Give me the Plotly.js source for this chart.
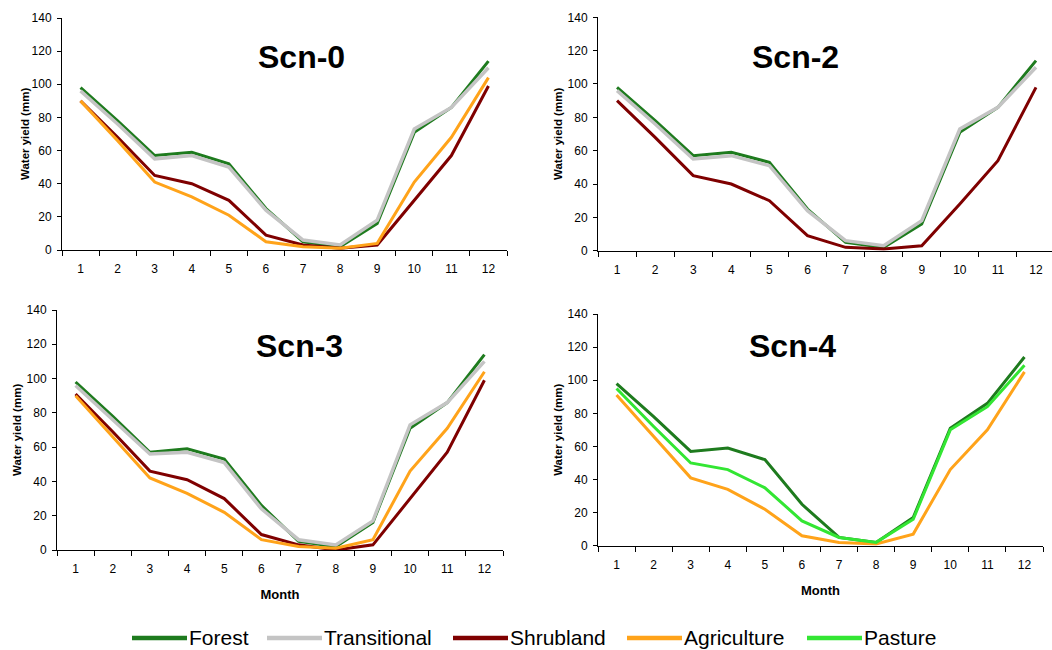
<!DOCTYPE html>
<html>
<head>
<meta charset="utf-8">
<script src="https://cdn.plot.ly/plotly-3.0.1.min.js"></script>
<style>
html,body{margin:0;padding:0;background:#fff;}
#chart{width:1052px;height:650px;}
</style>
</head>
<body>
<div id="chart"></div>
<script>
// ---------------- DATA ----------------
const months = ['1','2','3','4','5','6','7','8','9','10','11','12'];
const scenarioTitles = ['Scn-0','Scn-2','Scn-3','Scn-4'];
const seriesNames = ['Forest','Transitional','Shrubland','Agriculture','Pasture'];

// Scn-0
const s0Forest       = [98, 78, 57, 59, 52, 25, 5, 2, 16, 71, 86, 114];
const s0Transitional = [96, 76, 55, 57, 50, 24, 6, 3, 18, 73, 86, 110];
const s0Shrubland    = [90, 68, 45, 40, 30, 9, 3, 1, 3, 30, 57, 99];
const s0Agriculture  = [90, 66, 41, 32, 21, 5, 2, 1, 4, 41, 68, 104];

// Scn-2
const s2Forest       = [98, 78, 57, 59, 53, 25, 5, 2, 16, 71, 86, 114];
const s2Transitional = [96, 76, 55, 57, 51, 24, 6, 3, 18, 73, 86, 110];
const s2Shrubland    = [90, 68, 45, 40, 30, 9, 2, 1, 3, 28, 54, 98];

// Scn-3
const s3Forest       = [98, 78, 57, 59, 53, 26, 5, 2, 16, 71, 86, 114];
const s3Transitional = [96, 76, 56, 57, 51, 24, 6, 3, 17, 73, 86, 110];
const s3Shrubland    = [91, 69, 46, 41, 30, 9, 3, 0, 3, 30, 57, 99];
const s3Agriculture  = [90, 66, 42, 33, 22, 6, 2, 1, 6, 46, 71, 104];

// Scn-4
const s4Forest       = [98, 78, 57, 59, 52, 25, 5, 2, 17, 71, 86, 114];
const s4Agriculture  = [91, 66, 41, 34, 22, 6, 2, 1, 7, 46, 70, 105];
const s4Pasture      = [95, 72, 50, 46, 35, 15, 5, 2, 16, 70, 84, 109];

const yTickVals = [0, 20, 40, 60, 80, 100, 120, 140];

// ---------------- STYLE ----------------
const W = 1052, H = 650;
const FONT = 'Liberation Sans, Arial, sans-serif';
const colors = {
  Forest: '#1e7b1e',
  Transitional: '#c4c4c4',
  Shrubland: '#7f0000',
  Agriculture: '#ffa31a',
  Pasture: '#33e633'
};
const widths = {Forest: 3, Transitional: 3.5, Shrubland: 3, Agriculture: 3, Pasture: 3};

const panels = [
  {title: scenarioTitles[0], series: [['Forest', s0Forest], ['Transitional', s0Transitional], ['Shrubland', s0Shrubland], ['Agriculture', s0Agriculture]],
   px: [62, 507], py: [18, 250], xrange: [-0.5, 11.5], month: false, titlePos: [301, 57], ytitleX: 25},
  {title: scenarioTitles[1], series: [['Forest', s2Forest], ['Transitional', s2Transitional], ['Shrubland', s2Shrubland]],
   px: [598, 1052], py: [17.3, 250.7], xrange: [-0.5, 11.42], month: false, titlePos: [795, 57], ytitleX: 558},
  {title: scenarioTitles[2], series: [['Forest', s3Forest], ['Transitional', s3Transitional], ['Shrubland', s3Shrubland], ['Agriculture', s3Agriculture]],
   px: [57, 503], py: [310, 550], xrange: [-0.5, 11.5], month: true, titlePos: [299, 346], ytitleX: 17},
  {title: scenarioTitles[3], series: [['Forest', s4Forest], ['Agriculture', s4Agriculture], ['Pasture', s4Pasture]],
   px: [598, 1043], py: [314, 545.7], xrange: [-0.5, 11.5], month: true, titlePos: [792, 346], ytitleX: 558}
];

const traces = [];
const layout = {
  width: W, height: H,
  margin: {l: 0, r: 0, t: 0, b: 0},
  paper_bgcolor: '#fff', plot_bgcolor: '#fff',
  showlegend: false,
  font: {family: FONT, color: '#000'},
  annotations: [], shapes: []
};

panels.forEach((p, i) => {
  const n = i + 1;
  const xa = 'x' + (n === 1 ? '' : n), ya = 'y' + (n === 1 ? '' : n);
  const xk = 'xaxis' + (n === 1 ? '' : n), yk = 'yaxis' + (n === 1 ? '' : n);
  p.series.forEach(([name, vals]) => {
    traces.push({
      type: 'scatter', mode: 'lines', name: name,
      x: months, y: vals, xaxis: xa, yaxis: ya,
      line: {color: colors[name], width: widths[name]},
      hoverinfo: 'x+y+name'
    });
  });
  layout[xk] = {
    domain: [p.px[0] / W, p.px[1] / W],
    anchor: ya, type: 'category', range: p.xrange,
    showline: true, linecolor: '#000', linewidth: 1,
    ticks: 'outside', tickson: 'boundaries', ticklen: 5, tickcolor: '#000',
    showgrid: false, zeroline: false,
    tickfont: {family: FONT, size: 12, color: '#000'},
    ticklabelstandoff: 8,
    title: p.month ? {text: '<b>Month</b>', font: {family: FONT, size: 13, color: '#000'}, standoff: 14} : {text: ''}
  };
  layout[yk] = {
    domain: [1 - p.py[1] / H, 1 - p.py[0] / H],
    anchor: xa, range: [0, 140], tickvals: yTickVals,
    showline: true, linecolor: '#000', linewidth: 1,
    ticks: 'outside', ticklen: 4, tickcolor: '#000',
    showgrid: false, zeroline: false,
    tickfont: {family: FONT, size: 12, color: '#000'},
    ticklabelstandoff: 3,
    title: {text: ''}
  };
  // y axis title
  layout.annotations.push({
    xref: 'paper', yref: 'paper',
    x: p.ytitleX / W, y: 1 - (p.py[0] + p.py[1]) / 2 / H,
    text: '<b>Water yield (mm)</b>', textangle: -90, showarrow: false,
    xanchor: 'center', yanchor: 'middle',
    font: {family: FONT, size: 11.5, color: '#000'}
  });
  // panel title
  layout.annotations.push({
    xref: 'paper', yref: 'paper',
    x: p.titlePos[0] / W, y: 1 - p.titlePos[1] / H,
    text: '<b>' + p.title + '</b>', showarrow: false,
    xanchor: 'center', yanchor: 'middle',
    font: {family: FONT, size: 32, color: '#000'}
  });
});

// ---------------- LEGEND (manual, below panels) ----------------
const legendStartPx = [132, 267, 453, 627, 807];
const legendLineLen = 55, legendY = 638;
seriesNames.forEach((name, i) => {
  const x0 = legendStartPx[i];
  layout.shapes.push({
    type: 'line', xref: 'paper', yref: 'paper',
    x0: x0 / W, x1: (x0 + legendLineLen) / W,
    y0: 1 - legendY / H, y1: 1 - legendY / H,
    line: {color: colors[name], width: 4.5}
  });
  layout.annotations.push({
    xref: 'paper', yref: 'paper',
    x: (x0 + legendLineLen + 1) / W, y: 1 - (legendY - 0.5) / H,
    text: name, showarrow: false, xanchor: 'left', yanchor: 'middle',
    borderpad: 0,
    font: {family: FONT, size: 21, color: '#000'}
  });
});

Plotly.newPlot('chart', traces, layout, {displayModeBar: false, staticPlot: true});
</script>
</body>
</html>
